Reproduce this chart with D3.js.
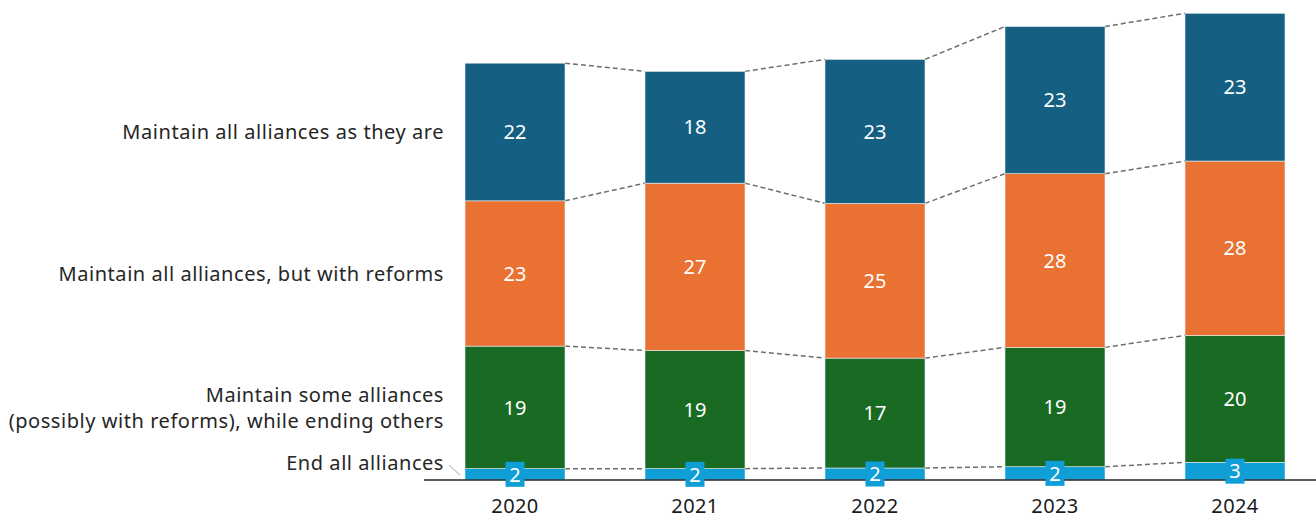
<!DOCTYPE html>
<html>
<head>
<meta charset="utf-8">
<script src="https://cdn.jsdelivr.net/npm/d3@7"></script>
<style>
    body { margin: 0; background: #fff; }
    svg { display: block; font-family: "Noto Sans", sans-serif; }
</style>
</head>
<body>
<div id="chart"></div>
<script>
// Survey years
const years = ['2020', '2021', '2022', '2023', '2024'];

// Series, bottom to top (percentages)
const endAll = [1.8, 1.8, 1.9, 2.1, 2.8];
const maintainSome = [19.4, 18.7, 17.4, 18.9, 20.1];
const maintainReforms = [23.0, 26.5, 24.5, 27.5, 27.6];
const maintainAsIs = [21.8, 17.7, 22.8, 23.3, 23.4];

const seriesNames = [
    'End all alliances',
    'Maintain some alliances\n(possibly with reforms), while ending others',
    'Maintain all alliances, but with reforms',
    'Maintain all alliances as they are'
];
const seriesColors = ['#0F9ED5', '#196B24', '#E97132', '#156082'];

const width = 1316;
const height = 515;
const baseline = 480;

const rows = years.map((year, i) => ({
    year,
    s0: endAll[i],
    s1: maintainSome[i],
    s2: maintainReforms[i],
    s3: maintainAsIs[i]
}));
const keys = ['s0', 's1', 's2', 's3'];
const stacked = d3.stack().keys(keys)(rows);

const svg = d3.select('#chart')
    .append('svg')
    .attr('width', width)
    .attr('height', height);

const xScale = d3.scaleBand()
    .domain(years)
    .range([465, 1285])
    .paddingInner(4 / 9)
    .paddingOuter(0);

const yScale = d3.scaleLinear()
    .domain([0, 76])
    .range([baseline, 0]);

// Dashed connectors between neighbouring bars at every segment top
stacked.forEach(layer => {
    for (let i = 0; i < years.length - 1; i++) {
        svg.append('line')
            .attr('x1', xScale(years[i]) + xScale.bandwidth())
            .attr('x2', xScale(years[i + 1]))
            .attr('y1', yScale(layer[i][1]))
            .attr('y2', yScale(layer[i + 1][1]))
            .attr('stroke', '#6e6e6e')
            .attr('stroke-width', 1.5)
            .attr('stroke-dasharray', '5,3');
    }
});

// Bar segments
const layers = svg.selectAll('g.layer')
    .data(stacked)
    .enter()
    .append('g')
    .attr('class', 'layer')
    .attr('fill', (d, i) => seriesColors[i]);

layers.selectAll('rect')
    .data(d => d)
    .enter()
    .append('rect')
    .attr('x', d => xScale(d.data.year))
    .attr('y', d => yScale(d[1]))
    .attr('width', xScale.bandwidth())
    .attr('height', d => yScale(d[0]) - yScale(d[1]))
    .attr('stroke', '#e8eef2')
    .attr('stroke-width', 0.6);

// Baseline
svg.append('line')
    .attr('x1', 424)
    .attr('x2', width)
    .attr('y1', baseline)
    .attr('y2', baseline)
    .attr('stroke', '#262626')
    .attr('stroke-width', 1.5);

// Value labels
stacked.forEach((layer, li) => {
    layer.forEach(d => {
        const cx = xScale(d.data.year) + xScale.bandwidth() / 2;
        const cy = (yScale(d[0]) + yScale(d[1])) / 2;
        if (li === 0) {
            svg.append('rect')
                .attr('x', cx - 9.5)
                .attr('y', cy - 12.5)
                .attr('width', 19)
                .attr('height', 25)
                .attr('fill', seriesColors[0]);
        }
        svg.append('text')
            .attr('x', cx)
            .attr('y', cy)
            .attr('dy', '0.36em')
            .attr('text-anchor', 'middle')
            .attr('fill', '#fff')
            .style('font-size', '20px')
            .text(Math.round(d[1] - d[0]));
    });
});

// X axis year labels
const xAxis = svg.append('g')
    .attr('transform', `translate(0,${baseline})`)
    .call(d3.axisBottom(xScale).tickSize(0).tickPadding(19));
xAxis.select('.domain').remove();
xAxis.selectAll('text')
    .style('font-size', '20px')
    .style('letter-spacing', '0.4px')
    .style('font-family', '"Noto Sans", sans-serif')
    .attr('fill', '#1a1a1a');

// Series labels on the left, aligned to the first bar
const firstBar = stacked.map(layer => layer[0]);
const labelX = 444;
seriesNames.forEach((name, i) => {
    const seg = firstBar[i];
    let cy = (yScale(seg[0]) + yScale(seg[1])) / 2;
    if (i === 0) cy = 463;
    const lines = name.split('\n');
    const lineH = 26;
    const t = svg.append('text')
        .attr('text-anchor', 'end')
        .attr('fill', '#262626')
        .style('font-size', '20px')
        .style('letter-spacing', '0.55px');
    lines.forEach((line, j) => {
        t.append('tspan')
            .attr('x', labelX)
            .attr('y', cy + (j - (lines.length - 1) / 2) * lineH)
            .attr('dy', '0.36em')
            .text(line);
    });
});

// Leader line for the thin bottom segment
svg.append('line')
    .attr('x1', 449)
    .attr('y1', 465)
    .attr('x2', 460)
    .attr('y2', 475)
    .attr('stroke', '#a6a6a6')
    .attr('stroke-width', 1);
</script>
</body>
</html>
